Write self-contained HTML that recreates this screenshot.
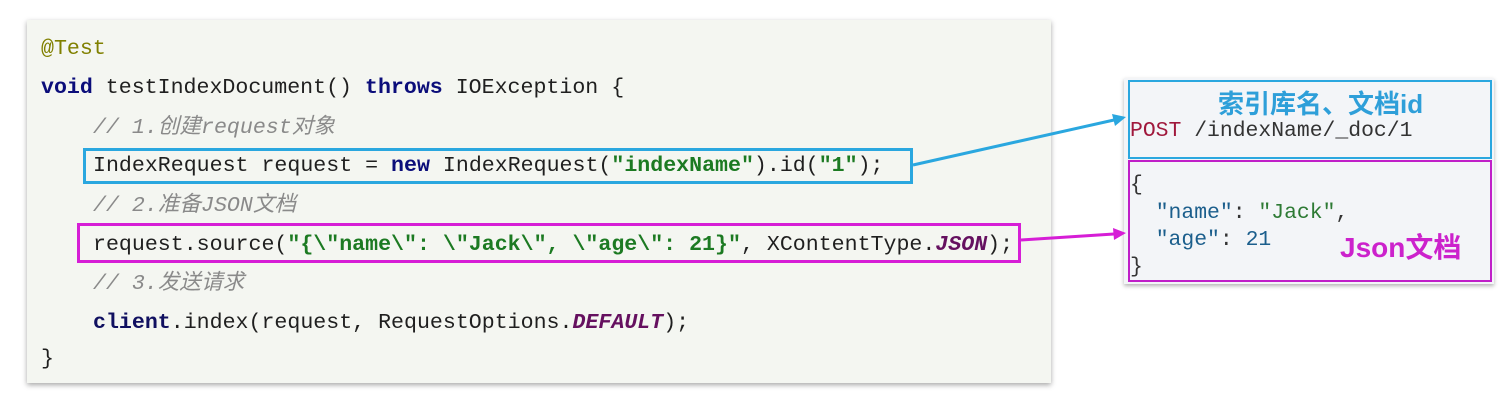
<!DOCTYPE html>
<html><head><meta charset="utf-8"><style>
body{margin:0;width:1509px;height:401px;background:#fff;position:relative;overflow:hidden;font-family:"Liberation Mono","Noto Sans CJK SC",monospace}
.panel{position:absolute;left:27px;top:20px;width:1024px;height:363px;background:#f4f6f1;box-shadow:0 2px 5px rgba(0,0,0,.35)}
.l{position:absolute;font-size:21.6px;color:#1f1f1f;white-space:pre;line-height:26px}
.kw{color:#0b0d7a;font-weight:bold}
.s{color:#1c7a22;font-weight:bold}
.c{color:#8a8a8a;font-style:italic}
.an{color:#808000}
.it{color:#65105f;font-style:italic;font-weight:bold}
.cl{color:#101060;font-weight:bold}
.box{position:absolute;box-sizing:border-box}
.r{position:absolute;font-size:21.4px;white-space:pre;line-height:24px;color:#333}
</style></head><body>
<div class="panel"></div>
<div class="l an" style="left:41px;top:36px">@Test</div>
<div class="l" style="left:41px;top:75px"><span class="kw">void</span> testIndexDocument() <span class="kw">throws</span> IOException {</div>
<div class="l c" style="left:93px;top:115px">// 1.创建request对象</div>
<div class="l" style="left:93px;top:153px">IndexRequest request = <span class="kw">new</span> IndexRequest(<span class="s">"indexName"</span>).id(<span class="s">"1"</span>);</div>
<div class="l c" style="left:93px;top:193px">// 2.准备JSON文档</div>
<div class="l" style="left:93px;top:232px">request.source(<span class="s">"{\"name\": \"Jack\", \"age\": 21}"</span>, XContentType.<span class="it">JSON</span>);</div>
<div class="l c" style="left:93px;top:271px">// 3.发送请求</div>
<div class="l" style="left:93px;top:310px"><span class="cl">client</span>.index(request, RequestOptions.<span class="it">DEFAULT</span>);</div>
<div class="l" style="left:41px;top:346px">}</div>
<div class="box" style="left:83px;top:148px;width:830px;height:36px;border:3px solid #2aa7df"></div>
<div class="box" style="left:77px;top:223px;width:944px;height:40px;border:3px solid #d61ed6"></div>

<div class="box" style="left:1124px;top:78px;width:370px;height:206px;background:#f3f5f8;box-shadow:0 2px 4px rgba(0,0,0,.3)"></div>
<div class="box" style="left:1128px;top:80px;width:364px;height:79px;border:2px solid #2aa7df"></div>
<div class="box" style="left:1128px;top:160px;width:364px;height:122px;border:2px solid #c01fc8"></div>
<div style="position:absolute;left:1218px;top:84px;font-family:'Liberation Sans','Noto Sans CJK SC',sans-serif;font-weight:bold;font-size:26px;color:#2e9fd9">索引库名、文档id</div>
<div class="r" style="left:1130px;top:119px"><span style="color:#a0183c">POST</span> /indexName/_doc/1</div>
<div class="r" style="left:1130px;top:173px">{</div>
<div class="r" style="left:1130px;top:201px">  <span style="color:#1b5e8c">"name"</span>: <span style="color:#2d7a34">"Jack"</span>,</div>
<div class="r" style="left:1130px;top:228px">  <span style="color:#1b5e8c">"age"</span>: <span style="color:#1b5e8c">21</span></div>
<div class="r" style="left:1130px;top:255px">}</div>
<div style="position:absolute;left:1340px;top:226px;font-family:'Liberation Sans','Noto Sans CJK SC',sans-serif;font-weight:bold;font-size:28px;color:#cc22cc">Json文档</div>

<svg style="position:absolute;left:0;top:0" width="1509" height="401">
<line x1="913" y1="165" x2="1114" y2="120" stroke="#2aa7df" stroke-width="3"/>
<polygon points="1126,117 1112,114 1115,126" fill="#2aa7df"/>
<line x1="1021" y1="240" x2="1114" y2="234" stroke="#d61ed6" stroke-width="3"/>
<polygon points="1126,233 1113,228 1114,240" fill="#d61ed6"/>
</svg>
</body></html>
